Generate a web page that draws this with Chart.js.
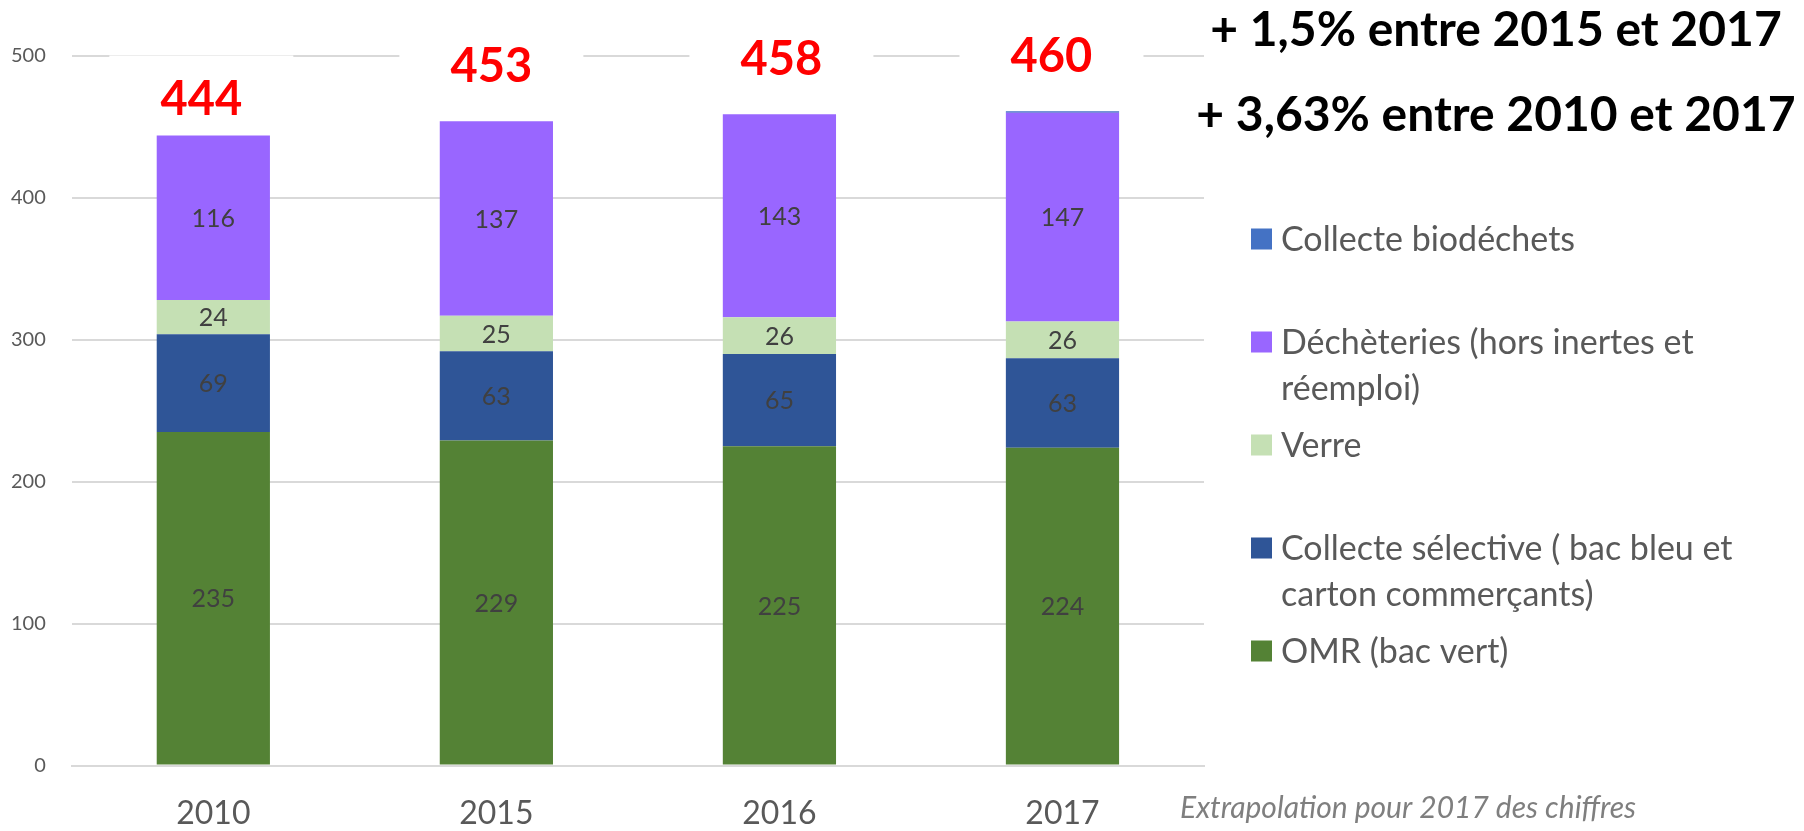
<!DOCTYPE html>
<html>
<head>
<meta charset="utf-8">
<script src="https://cdn.jsdelivr.net/npm/chart.js@4/dist/chart.umd.min.js"></script>
<style>
  body { margin: 0; background: #fff; }
  canvas { display: block; }
</style>
</head>
<body>
<canvas id="myChart" width="1804" height="831"></canvas>
<script>
// categories and series (tonnes / kg par habitant)
var annees = ["2010", "2015", "2016", "2017"];
var omr = [235, 229, 225, 224];
var selective = [69, 63, 65, 63];
var verre = [24, 25, 26, 26];
var decheteries = [116, 137, 143, 147];
var biodechets = [0, 0, 0, 1];
var totaux = [444, 453, 458, 460];
var yTicks = [0, 100, 200, 300, 400, 500];
var evolutions = ["+ 1,5% entre 2015 et 2017", "+ 3,63% entre 2010 et 2017"];
var noteBas = "Extrapolation pour 2017 des chiffres";

var police = "Lato, 'Open Sans', sans-serif";
var gris = "#595959";

// valeurs au milieu de chaque segment
var valeursPlugin = {
    id: 'valeurs',
    afterDatasetsDraw: function(chart) {
        var ctx = chart.ctx;
        ctx.save();
        ctx.font = "25px " + police;
        ctx.fillStyle = "#404040";
        ctx.textAlign = "center";
        ctx.textBaseline = "middle";
        chart.data.datasets.forEach(function(ds, i) {
            var meta = chart.getDatasetMeta(i);
            meta.data.forEach(function(bar, j) {
                if (ds.data[j] < 5) return;
                ctx.fillText(ds.data[j], bar.x, (bar.y + bar.base) / 2 + 1);
            });
        });
        ctx.restore();
    }
};

// totaux en rouge au-dessus des barres (zones de texte blanches)
var totauxPlugin = {
    id: 'totaux',
    beforeDatasetsDraw: function(chart, args, opts) {
        var ctx = chart.ctx;
        var yScale = chart.scales.y;
        var xScale = chart.scales.x;
        ctx.save();
        ctx.fillStyle = "#fff";
        totaux.forEach(function(t, i) {
            var cx = xScale.getPixelForValue(i) + opts.dx[i];
            var cy = yScale.getPixelForValue(t) - opts.dy[i];
            ctx.fillRect(cx - 92, cy - 44, 184, 72);
        });
        ctx.restore();
    },
    afterDraw: function(chart, args, opts) {
        var ctx = chart.ctx;
        var yScale = chart.scales.y;
        var xScale = chart.scales.x;
        ctx.save();
        ctx.font = "bold 47px " + police;
        ctx.fillStyle = "#ff0000";
        ctx.textAlign = "center";
        ctx.textBaseline = "middle";
        totaux.forEach(function(t, i) {
            var cx = xScale.getPixelForValue(i) + opts.dx[i];
            var cy = yScale.getPixelForValue(t) - opts.dy[i];
            ctx.fillText(t, cx, cy);
        });
        ctx.restore();
    }
};

// légende à droite, ordre inversé, lignes coupées
var legendePlugin = {
    id: 'legende',
    afterDraw: function(chart, args, opts) {
        var ctx = chart.ctx;
        ctx.save();
        ctx.font = opts.taille + "px " + police;
        ctx.textBaseline = "middle";
        ctx.textAlign = "left";
        var items = chart.data.datasets.slice().reverse();
        items.forEach(function(ds, k) {
            var y = opts.top + k * opts.pas;
            ctx.fillStyle = ds.backgroundColor;
            ctx.fillRect(opts.x, y - 10.5, 21, 21);
            // coupe le libellé
            var mots = ds.label.split(" ");
            var lignes = [];
            var cur = "";
            mots.forEach(function(m) {
                var essai = cur ? cur + " " + m : m;
                if (ctx.measureText(essai).width > opts.largeur && cur) {
                    lignes.push(cur);
                    cur = m;
                } else {
                    cur = essai;
                }
            });
            lignes.push(cur);
            ctx.fillStyle = gris;
            lignes.forEach(function(l, n) {
                ctx.fillText(l, opts.x + 30, y + 1 + n * opts.interligne);
            });
        });
        ctx.restore();
    }
};

// textes libres : évolutions et note
var textesPlugin = {
    id: 'textes',
    afterDraw: function(chart) {
        var ctx = chart.ctx;
        ctx.save();
        ctx.fillStyle = "#fff";
        ctx.fillRect(1205, 0, 599, 150);
        ctx.font = "bold 48px " + police;
        ctx.fillStyle = "#000";
        ctx.textAlign = "center";
        ctx.textBaseline = "middle";
        ctx.fillText(evolutions[0], 1496, 31);
        ctx.fillText(evolutions[1], 1496, 116);
        ctx.font = "italic 30px " + police;
        ctx.fillStyle = "#7f7f7f";
        ctx.textAlign = "left";
        ctx.fillText(noteBas, 1180, 808);
        ctx.restore();
    }
};

var ctx = document.getElementById("myChart").getContext('2d');
var myChart = new Chart(ctx, {
    type: 'bar',
    data: {
        labels: annees,
        datasets: [{
            label: 'OMR (bac vert)',
            data: omr,
            backgroundColor: '#548235'
        }, {
            label: 'Collecte sélective ( bac bleu et carton commerçants)',
            data: selective,
            backgroundColor: '#2f5597'
        }, {
            label: 'Verre',
            data: verre,
            backgroundColor: '#c5e0b4'
        }, {
            label: 'Déchèteries (hors inertes et réemploi)',
            data: decheteries,
            backgroundColor: '#9966ff'
        }, {
            label: 'Collecte biodéchets',
            data: biodechets,
            backgroundColor: '#4472c4'
        }]
    },
    plugins: [valeursPlugin, totauxPlugin, legendePlugin, textesPlugin],
    options: {
        responsive: false,
        animation: false,
        devicePixelRatio: 1,
        layout: {
            padding: { left: -15, right: 600, top: 56, bottom: -31 }
        },
        datasets: {
            bar: { categoryPercentage: 1, barPercentage: 0.4 }
        },
        scales: {
            x: {
                stacked: true,
                grid: { display: false, drawTicks: false },
                border: { color: '#d9d9d9', width: 2 },
                ticks: {
                    color: gris,
                    padding: 29,
                    font: { family: police, size: 32 }
                }
            },
            y: {
                stacked: true,
                min: 0,
                max: 500,
                afterBuildTicks: function(axis) {
                    axis.ticks = yTicks.map(function(v) { return { value: v }; });
                },
                grid: { color: '#d9d9d9', lineWidth: 2, drawTicks: false },
                border: { display: false },
                ticks: {
                    color: gris,
                    padding: 26,
                    font: { family: police, size: 20 }
                }
            }
        },
        plugins: {
            legend: { display: false },
            tooltip: { enabled: false },
            totaux: { dx: [-12, -5, 2, -11], dy: [36, 56, 56, 56] },
            legende: { x: 1251, top: 239, pas: 103, interligne: 46, taille: 34, largeur: 480 }
        }
    }
});
</script>
</body>
</html>
